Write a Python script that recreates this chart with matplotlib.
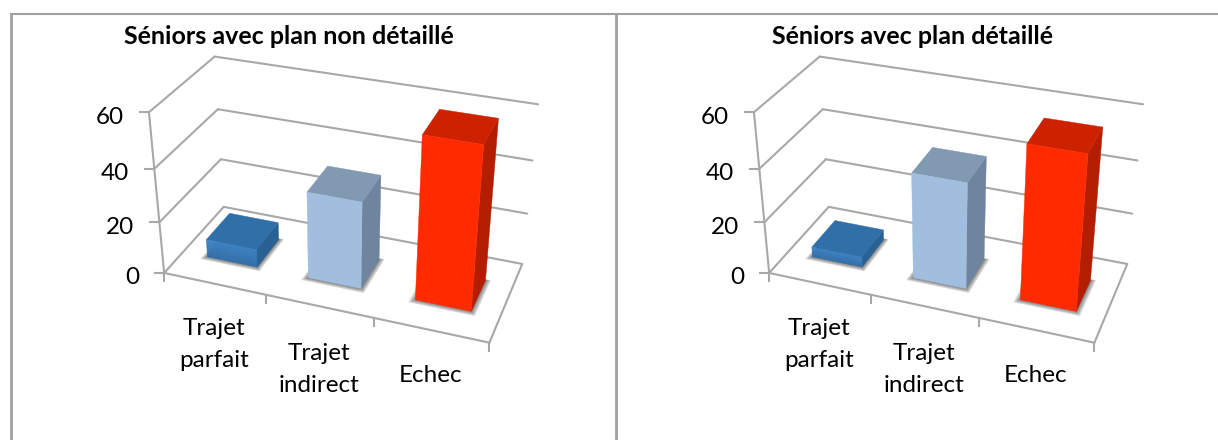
import numpy as np
import matplotlib
matplotlib.use('Agg')
import matplotlib.pyplot as plt
from matplotlib.colors import to_rgb

plt.rcParams['font.family'] = ['Lato', 'DejaVu Sans']

categories = ['Trajet\nparfait', 'Trajet\nindirect', 'Echec']
titles = ['Séniors avec plan non détaillé', 'Séniors avec plan détaillé']
values_non_detaille = [7, 33, 60]
values_detaille = [4, 40, 57]
value_ticks = [0, 20, 40, 60]

front_colors = ['#3A80C4', '#A1BEDE', '#FF2A00']
top_colors = ['#306FA8', '#8299B2', '#CC2200']
side_colors = ['#2A6194', '#6F849E', '#B31E00']
grid_color = '#A8A8A8'
border_color = '#A0A0A0'

bar_half = 0.25
depth_lo, depth_hi = 0.30, 0.70

# box corners and wall levels: (category, depth, value) -> pixel, left panel
anchors = [
    (0, 0, 0, 164.3, 273.3), (3, 0, 0, 489.3, 342.7),
    (0, 1, 0, 224.0, 206.7), (3, 1, 0, 522.3, 264.0),
    (0, 0, 20, 159.3, 222.3), (0, 0, 40, 154.3, 168.3), (0, 0, 60, 149.0, 112.3),
    (0, 1, 20, 220.7, 159.3), (0, 1, 40, 217.3, 109.3), (0, 1, 60, 215.0, 56.7),
    (3, 1, 20, 527.3, 213.3), (3, 1, 40, 532.3, 160.7), (3, 1, 60, 538.3, 104.3),
]


def fit_camera(points):
    rows = []
    rhs = []
    for c, d, v, px, py in points:
        rows.append([c, d, v, 1, 0, 0, 0, 0, -px*c, -px*d, -px*v])
        rhs.append(px)
        rows.append([0, 0, 0, 0, c, d, v, 1, -py*c, -py*d, -py*v])
        rhs.append(py)
    sol = np.linalg.lstsq(np.array(rows, float), np.array(rhs, float), rcond=None)[0]
    return np.append(sol, 1).reshape(3, 4)


camera = fit_camera(anchors)


def project(c, d, v, shift=0):
    p = camera @ np.array([c, d, v, 1.0])
    return p[0]/p[2] + shift, p[1]/p[2]


def face(ax, corners, color, shift, zorder=5):
    pts = [project(*q, shift=shift) for q in corners]
    ax.fill(*zip(*pts), color=color, lw=0.3, zorder=zorder)


def line(ax, a, b, shift):
    p, q = project(*a, shift=shift), project(*b, shift=shift)
    ax.plot([p[0], q[0]], [p[1], q[1]], color=grid_color, lw=1.5, zorder=1,
            solid_capstyle='round')


def draw_bar(ax, i, val, shift):
    c0, c1 = i + 0.5 - bar_half, i + 0.5 + bar_half
    d0, d1 = depth_lo, depth_hi

    # soft shadow on the floor
    for k in range(8):
        g = 0.003 + 0.006*k
        gd = 0.002 + 0.006*k
        face(ax, [(c0 - g, d0 - gd, 0), (c1 + g, d0 - gd, 0),
                  (c1 + g, d1 + gd*0.3, 0), (c0 - g, d1 + gd*0.3, 0)], (0, 0, 0, 0.07), shift, zorder=2)

    face(ax, [(c1, d0, 0), (c1, d1, 0), (c1, d1, val), (c1, d0, val)], side_colors[i], shift)
    face(ax, [(c0, d1, val), (c1, d1, val), (c1, d0, val), (c0, d0, val)], top_colors[i], shift)
    if i == 0:
        # blue column has a slight gradient on the front
        base = np.array(to_rgb(front_colors[i]))
        n = 12
        for k in range(n):
            t = k/(n - 1)
            col = base*(0.86 + 0.14*t)
            face(ax, [(c0, d0, val*k/n), (c1, d0, val*k/n),
                      (c1, d0, val*(k + 1)/n), (c0, d0, val*(k + 1)/n)], tuple(col), shift)
    else:
        face(ax, [(c0, d0, 0), (c1, d0, 0), (c1, d0, val), (c0, d0, val)], front_colors[i], shift)


def draw_panel(ax, title, title_x, values, shift):
    ax.text(title_x, 37, title, fontsize=18, fontweight='bold',
            ha='center', va='center', color='k')

    for v in value_ticks:
        line(ax, (0, 1, v), (3, 1, v), shift)
        line(ax, (0, 0, v), (0, 1, v), shift)
        px, py = project(0, 0, v, shift=shift)
        ax.plot([px - 9, px], [py, py], color=grid_color, lw=1.5, zorder=1)
        ax.text(px - 25, py + 5, str(v), fontsize=17.5, ha='right', va='center', color='k')
    line(ax, (0, 0, 0), (3, 0, 0), shift)
    line(ax, (3, 0, 0), (3, 1, 0), shift)
    line(ax, (0, 0, 0), (0, 0, 60), shift)

    for c in range(len(categories) + 1):
        px, py = project(c, 0, 0, shift=shift)
        ax.plot([px, px], [py, py + 8], color=grid_color, lw=1.5, zorder=1)

    label_dy = [45, 47, 45]
    for i, lab in enumerate(categories):
        px, py = project(i + 0.5, 0, 0, shift=shift)
        for j, part in enumerate(lab.split('\n')):
            ax.text(px, py + label_dy[i] + 32*j, part, fontsize=17.5, ha='center', va='center',
                    color='k')

    for i, val in enumerate(values):
        draw_bar(ax, i, val, shift)


fig = plt.figure(figsize=(12.18, 4.4), dpi=100)
ax = fig.add_axes([0, 0, 1, 1])
ax.set_xlim(0, 1218)
ax.set_ylim(440, 0)
ax.axis('off')

# panel frame
ax.plot([1218, 11], [14.5, 14.5], color=border_color, lw=1.5)
ax.plot([11, 11], [14.5, 440], color=border_color, lw=2)
ax.plot([616, 616], [14.5, 440], color=border_color, lw=2)

draw_panel(ax, titles[0], 289, values_non_detaille, 0)
draw_panel(ax, titles[1], 912.7, values_detaille, 605)

fig.savefig('out.png', dpi=100)
